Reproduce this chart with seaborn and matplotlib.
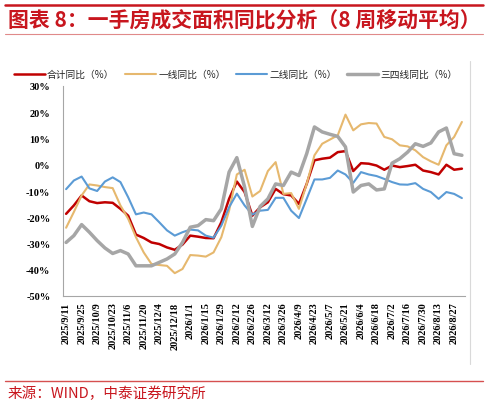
import matplotlib
matplotlib.use("Agg")
import matplotlib.pyplot as plt
import seaborn as sns
import pandas as pd
from matplotlib.lines import Line2D
from matplotlib.font_manager import FontProperties

# ---------------- data ----------------
dates = ["2025/9/11", "2025/9/18", "2025/9/25", "2025/10/2", "2025/10/9", "2025/10/16",
         "2025/10/23", "2025/10/30", "2025/11/6", "2025/11/13", "2025/11/20", "2025/11/27",
         "2025/12/4", "2025/12/11", "2025/12/18", "2025/12/25", "2026/1/1", "2026/1/8",
         "2026/1/15", "2026/1/22", "2026/1/29", "2026/2/5", "2026/2/12", "2026/2/19",
         "2026/2/26", "2026/3/5", "2026/3/12", "2026/3/19", "2026/3/26", "2026/4/2",
         "2026/4/9", "2026/4/16", "2026/4/23", "2026/4/30", "2026/5/7", "2026/5/14",
         "2026/5/21", "2026/5/28", "2026/6/4", "2026/6/11", "2026/6/18", "2026/6/25",
         "2026/7/2", "2026/7/9", "2026/7/16", "2026/7/23", "2026/7/30", "2026/8/6",
         "2026/8/13", "2026/8/20", "2026/8/27", "2026/9/3"]

total_yoy = [-18.7, -15.5, -11.7, -13.9, -14.6, -14.3, -14.5, -16.8, -19.4, -26.6,
             -27.9, -29.6, -30.2, -31.5, -32.4, -30.4, -27.0, -27.4, -27.9, -28.0,
             -21.9, -13.0, -6.4, -10.4, -19.4, -16.2, -14.3, -9.2, -11.2, -11.7,
             -14.9, -7.3, 1.7, 2.3, 2.7, 4.8, 5.2, -2.4, 0.6, 0.4,
             -0.3, -1.9, -0.3, -0.9, -0.5, 0.0, -2.2, -2.8, -3.7, 0.0,
             -1.9, -1.5]
tier1_yoy = [-24.0, -18.0, -11.7, -7.5, -7.9, -8.5, -8.9, -15.5, -20.6, -27.6,
             -33.4, -37.8, -38.2, -38.5, -41.3, -39.7, -34.4, -34.6, -35.0, -33.4,
             -27.6, -17.5, -3.7, -1.9, -12.1, -10.0, -2.4, 1.0, -11.1, -10.8,
             -16.8, -7.3, 3.6, 8.0, 9.6, 11.2, 19.1, 13.1, 15.4, 15.9,
             15.7, 10.6, 9.7, 7.4, 7.0, 5.5, 2.9, 1.3, 0.0, 7.4,
             10.6, 16.3]
tier2_yoy = [-9.3, -6.0, -4.5, -9.0, -10.0, -6.4, -4.8, -6.6, -12.4, -18.9,
             -18.2, -18.9, -21.9, -25.0, -27.0, -25.7, -24.7, -25.0, -27.0, -27.8,
             -23.2, -16.2, -11.0, -15.5, -19.0, -17.5, -17.2, -12.6, -12.6, -17.5,
             -20.3, -13.0, -5.6, -5.6, -5.0, -2.2, -3.7, -6.9, -2.8, -3.7,
             -4.3, -5.4, -6.6, -7.5, -7.6, -7.0, -9.2, -10.4, -13.0, -10.4,
             -11.1, -12.7]
tier34_yoy = [-29.6, -27.0, -22.8, -25.7, -28.9, -31.7, -33.8, -32.7, -34.0, -38.5,
              -38.5, -38.5, -37.2, -35.9, -34.0, -29.6, -23.8, -23.2, -20.9, -21.3,
              -16.8, -2.8, 2.7, -8.5, -23.5, -15.9, -13.0, -7.3, -7.9, -2.8,
              -4.1, 4.2, 14.4, 12.5, 11.6, 10.8, 6.8, -10.4, -7.9, -7.3,
              -9.6, -9.2, 0.6, 2.3, 4.8, 8.0, 7.0, 8.3, 12.5, 14.0,
              4.2, 3.6]

series_names = ["合计同比（%）", "一线同比（%）", "二线同比（%）", "三四线同比（%）"]
series_values = [total_yoy, tier1_yoy, tier2_yoy, tier34_yoy]
y_ticks = [-50, -40, -30, -20, -10, 0, 10, 20, 30]
y_tick_labels = ["-50%", "-40%", "-30%", "-20%", "-10%", "0%", "10%", "20%", "30%"]

title_text = "图表 8：一手房成交面积同比分析（8 周移动平均）"
source_text = "来源：WIND，中泰证券研究所"

# ---------------- styling ----------------
colors = {series_names[0]: "#C00000", series_names[1]: "#E6B86E",
          series_names[2]: "#5B9BD5", series_names[3]: "#A6A6A6"}
widths = {series_names[0]: 1.8, series_names[1]: 1.5,
          series_names[2]: 1.5, series_names[3]: 2.5}
RED = "#C8161E"

rows = []
for name, vals in zip(series_names, series_values):
    for i, v in enumerate(vals):
        rows.append({"idx": i, "value": v, "series": name})
df = pd.DataFrame(rows)

sns.set_theme(style="white")
plt.rcParams["font.family"] = ["Liberation Serif", "Noto Sans CJK SC"]

W, H = 488, 406
fig = plt.figure(figsize=(W / 100, H / 100), dpi=100)
ax = fig.add_axes([63 / W, 1 - 297 / H, (465 - 63) / W, (297 - 87) / H])

sns.lineplot(data=df, x="idx", y="value", hue="series", hue_order=series_names,
             palette=colors, size="series", sizes=widths, size_order=series_names,
             sort=False, legend=False, ax=ax)

ax.set_xlim(-0.4, len(dates) - 1 + 0.4)
ax.set_ylim(-50, 30)
ax.set_yticks(y_ticks)
ax.set_yticklabels(y_tick_labels)
ax.set_xticks(range(len(dates)))
ax.set_xticklabels([d if i % 2 == 0 else "" for i, d in enumerate(dates)], rotation=90)
ax.set_xlabel("")
ax.set_ylabel("")
ax.tick_params(axis="both", direction="out", length=3, width=0.6, color="#8C8C8C",
               labelsize=7.5, labelcolor="black")
ax.tick_params(axis="y", pad=6)
ax.tick_params(axis="x", pad=1)
for lab in ax.get_xticklabels() + ax.get_yticklabels():
    lab.set_fontweight("bold")
    lab.set_family(["Liberation Serif"])
for s in ["top", "right"]:
    ax.spines[s].set_visible(False)
for s in ["left", "bottom"]:
    ax.spines[s].set_color("#A6A6A6")
    ax.spines[s].set_linewidth(0.8)
ax.grid(False)

handles = [Line2D([0], [0], color=colors[n], lw=widths[n]) for n in series_names]
fig.legend(handles, series_names, loc="center left",
           bbox_to_anchor=(14 / W, 1 - 75 / H), ncol=4, frameon=False,
           prop=FontProperties(family=["Noto Sans CJK SC"], size=7),
           handlelength=3.2, handletextpad=0.2, columnspacing=1.1,
           borderpad=0, borderaxespad=0)

# title and decorations
fig.add_artist(Line2D([5 / W, 483 / W], [1 - 6 / H] * 2, color=RED, lw=1.8,
                      transform=fig.transFigure))
fig.text(8 / W, 1 - 21 / H, title_text, fontsize=15, fontweight="bold", color=RED,
         family=["Noto Sans CJK SC"], ha="left", va="center")
fig.add_artist(Line2D([5 / W, 483 / W], [1 - 35 / H] * 2, color="#E08A8A", lw=0.8,
                      transform=fig.transFigure))
fig.add_artist(Line2D([470 / W] * 2, [1 - 62 / H, 1 - 365 / H], color="#D9D9D9", lw=0.8,
                      transform=fig.transFigure))
fig.add_artist(Line2D([5 / W, 483 / W], [1 - 382 / H] * 2, color="#D65050", lw=1.0,
                      transform=fig.transFigure))
fig.text(8 / W, 1 - 394 / H, source_text, fontsize=10.5, color=RED,
         family=["Noto Sans CJK SC", "DejaVu Sans"], ha="left", va="center")

fig.savefig("out.png", dpi=100)
